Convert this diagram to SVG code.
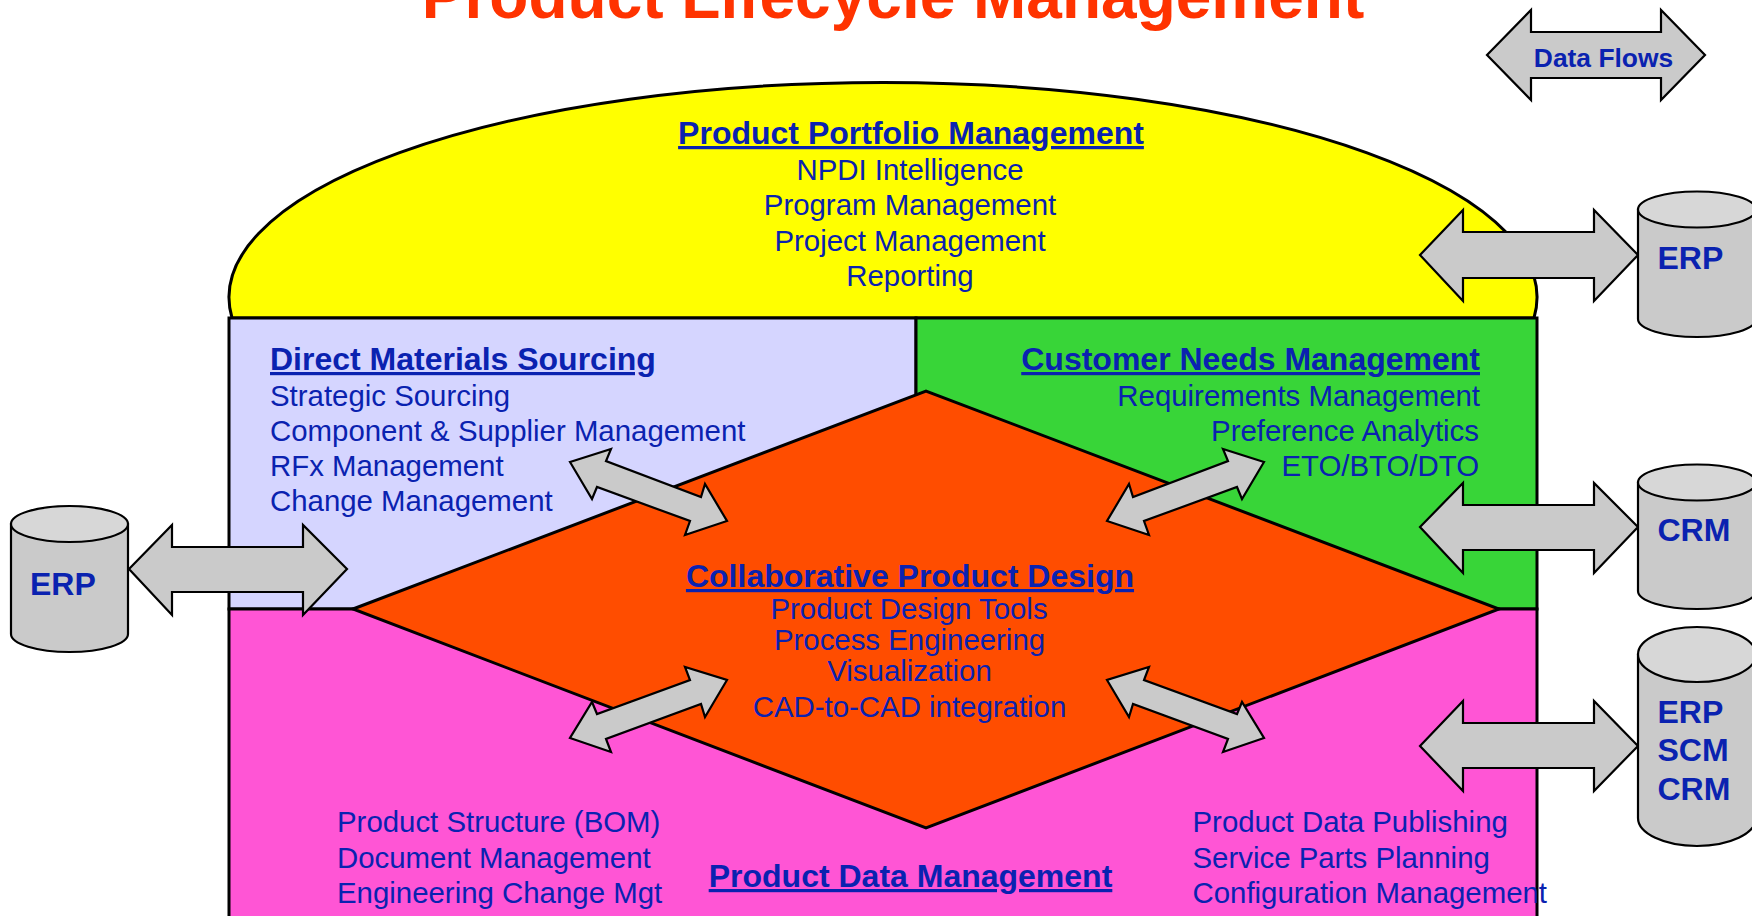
<svg xmlns="http://www.w3.org/2000/svg" width="1752" height="916" viewBox="0 0 1752 916">
<style>
.o{stroke:#000;stroke-width:3;stroke-linejoin:miter}
.a{fill:#cacaca;stroke:#000;stroke-width:2.2}
.c{fill:#cacaca;stroke:#000;stroke-width:2.2}
.e{fill:#d7d7d7;stroke:#000;stroke-width:2.2}
text{font-family:"Liberation Sans",Arial,sans-serif;fill:#0a22b0}
.h{font-size:32px;font-weight:bold;text-decoration:underline}
.b{font-size:29.4px}
.l{font-size:32px;font-weight:bold}
.m{text-anchor:middle}
.r{text-anchor:end}
</style>
<rect width="1752" height="916" fill="#fff"/>
<g id="title"><text x="893" y="18" class="m" style="fill:#ff3300;font-size:64px;font-weight:bold">Product Lifecycle Management</text></g>
<g id="portfolio">
<path class="o" fill="#ffff00" d="M232 318A654 215 0 1 1 1534 318Z"/>
<text x="911" y="144" class="h m">Product Portfolio Management</text>
<text x="910" y="180" class="b m">NPDI Intelligence</text>
<text x="910" y="215" class="b m">Program Management</text>
<text x="910" y="251" class="b m">Project Management</text>
<text x="910" y="286" class="b m">Reporting</text>
</g>
<g id="sourcing">
<rect class="o" fill="#d5d5ff" x="229" y="318" width="687" height="291"/>
<text x="270" y="370" class="h">Direct Materials Sourcing</text>
<text x="270" y="406" class="b">Strategic Sourcing</text>
<text x="270" y="441" class="b">Component &amp; Supplier Management</text>
<text x="270" y="476" class="b">RFx Management</text>
<text x="270" y="511" class="b">Change Management</text>
</g>
<g id="customer">
<rect class="o" fill="#38d538" x="916" y="318" width="621" height="291"/>
<text x="1480" y="370" class="h r">Customer Needs Management</text>
<text x="1480" y="406" class="b r">Requirements Management</text>
<text x="1479" y="441" class="b r">Preference Analytics</text>
<text x="1479" y="476" class="b r">ETO/BTO/DTO</text>
</g>
<g id="pdm">
<rect class="o" fill="#ff55d5" x="229" y="609" width="1308" height="320"/>
<text x="337" y="832" class="b">Product Structure (BOM)</text>
<text x="337" y="868" class="b">Document Management</text>
<text x="337" y="903" class="b">Engineering Change Mgt</text>
<text x="910.500" y="887" class="h m">Product Data Management</text>
<text x="1192.500" y="832" class="b">Product Data Publishing</text>
<text x="1192.500" y="868" class="b">Service Parts Planning</text>
<text x="1192.500" y="903" class="b">Configuration Management</text>
</g>
<g id="design">
<path class="o" fill="#ff4d00" d="M353 609L926 391L1499 609L926 828Z"/>
<text x="910" y="587" class="h m">Collaborative Product Design</text>
<text x="909" y="619" class="b m">Product Design Tools</text>
<text x="909.500" y="650" class="b m">Process Engineering</text>
<text x="909.500" y="681" class="b m">Visualization</text>
<text x="909.500" y="717" class="b m">CAD-to-CAD integration</text>
</g>
<g id="connectors">
<path class="a" d="M570 462L611 449L606 461L701 497L705 484L727 521L685 535L690 521L597 487L592 499Z"/>
<path class="a" d="M1264 462L1223 449L1228 461L1133 497L1129 484L1107 521L1149 535L1144 521L1237 487L1242 499Z"/>
<path class="a" d="M570 738L611 752L606 739L701 704L705 717L727 680L685 667L690 680L597 714L592 702Z"/>
<path class="a" d="M1264 738L1223 752L1228 739L1133 704L1129 717L1107 680L1149 667L1144 680L1237 714L1242 702Z"/>
<path class="a" d="M129 569L172 525V547H303V525L347 569L303 615V592H172V615Z"/>
<path class="a" d="M1420 255L1463 210V232H1594V210L1638 255L1594 301V278H1463V301Z"/>
<path class="a" d="M1420 527L1463 483V505H1594V483L1638 527L1594 573V550H1463V573Z"/>
<path class="a" d="M1420 746L1463 701V723H1594V701L1638 746L1594 791V768H1463V791Z"/>
<path class="a" d="M1487 55L1531 10V32H1661V10L1705 55L1661 100V78H1531V100Z"/>
<text x="1603.500" y="67" class="m" style="font-size:26.400px;font-weight:bold">Data Flows</text>
</g>
<g id="erp-left">
<path class="c" d="M11 524V634A58.500 18 0 0 0 128 634V524Z"/>
<ellipse class="e" cx="69.500" cy="524" rx="58.500" ry="18"/>
<text x="30" y="595" class="l">ERP</text>
</g>
<g id="erp-right">
<path class="c" d="M1638 209.500V319A59 18 0 0 0 1756 319V209.500Z"/>
<ellipse class="e" cx="1697" cy="209.500" rx="59" ry="18"/>
<text x="1657.500" y="269" class="l">ERP</text>
</g>
<g id="crm-right">
<path class="c" d="M1638 482.500V591A59 18 0 0 0 1756 591V482.500Z"/>
<ellipse class="e" cx="1697" cy="482.500" rx="59" ry="18"/>
<text x="1657.500" y="541" class="l">CRM</text>
</g>
<g id="multi-right">
<path class="c" d="M1638 654.500V818A59 28 0 0 0 1756 818V654.500Z"/>
<ellipse class="e" cx="1697" cy="654.500" rx="59" ry="27.500"/>
<text x="1657.500" y="723" class="l">ERP</text>
<text x="1657.500" y="761" class="l">SCM</text>
<text x="1657.500" y="800" class="l">CRM</text>
</g>
</svg>
